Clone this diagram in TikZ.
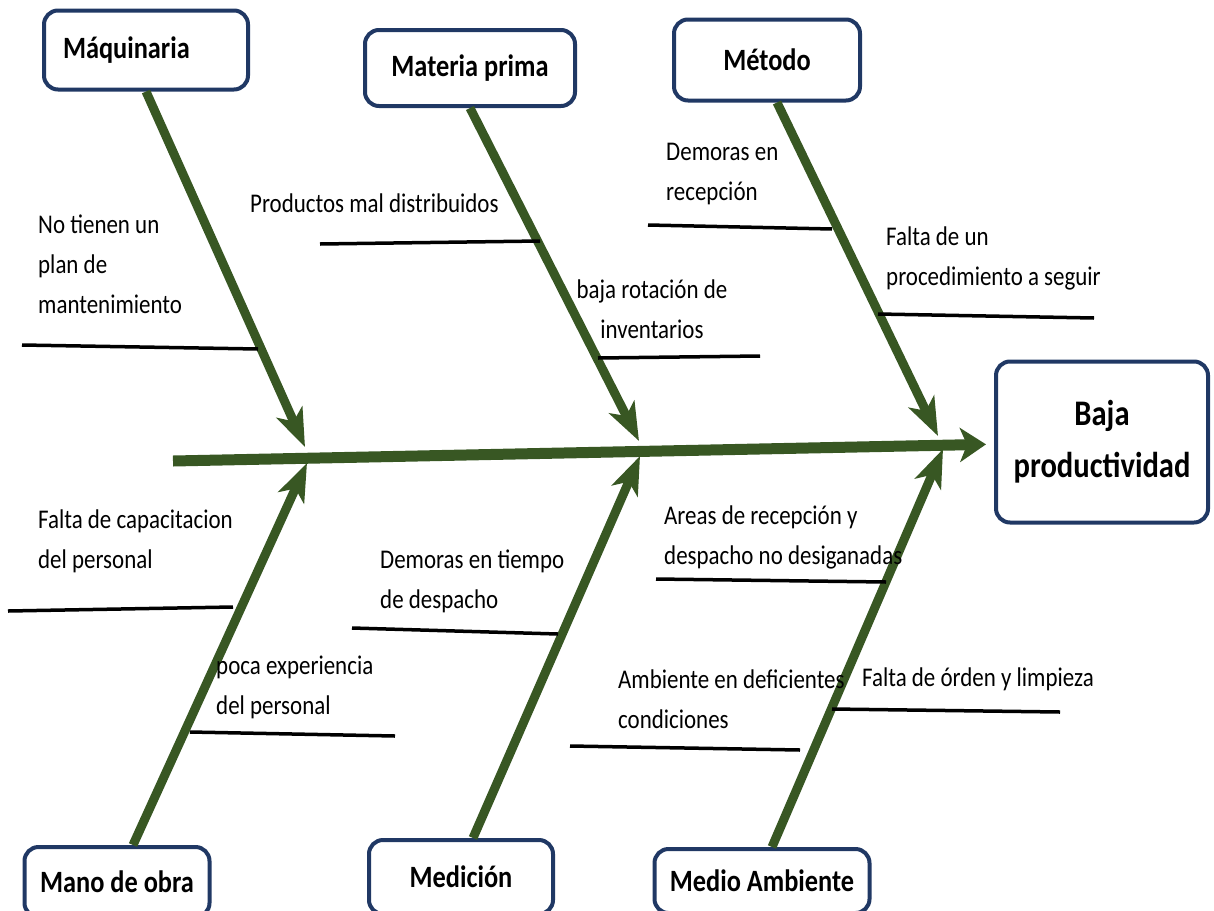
\documentclass[tikz,border=0pt]{standalone}
\usepackage{fontspec}
\setmainfont{Carlito}[FakeStretch=0.85]
\usetikzlibrary{arrows.meta}
\definecolor{bonegreen}{RGB}{56,87,35}
\definecolor{boxblue}{RGB}{32,56,100}
\begin{document}
\begin{tikzpicture}[x=1pt,y=-1pt,
    cat/.style={draw=boxblue,line width=4pt,rounded corners=14pt,fill=white,
      inner sep=0pt,font=\fontsize{31}{34}\selectfont\bfseries},
    spine/.style={draw=bonegreen,line width=11pt,
      -{Stealth[length=26pt,width=34pt,inset=7pt]}},
    bone/.style={draw=bonegreen,line width=9pt,
      -{Stealth[length=38pt,width=28pt,inset=10pt]}},
    sub/.style={draw=black,line width=3.5pt},
    cause/.style={font=\fontsize{27}{40}\selectfont,align=left,
      anchor=base west,inner sep=0pt}]
  \useasboundingbox (0,0) rectangle (1214,910);
  \path
    (146,50) node[cat,minimum width=204,minimum height=79,
      text width=166,align=left] (maq){M\'aquinaria}
    (470,68) node[cat,minimum width=210,minimum height=76] (mat){Materia prima}
    (767,60) node[cat,minimum width=186,minimum height=81] (met){M\'etodo}
    (117,882) node[cat,minimum width=185,minimum height=70] (mano){Mano de obra}
    (461,877) node[cat,minimum width=184,minimum height=74] (med){Medici\'on}
    (762,881) node[cat,minimum width=215,minimum height=64] (amb){Medio Ambiente}
    (1102,442) node[cat,minimum width=212,minimum height=161,align=center,
      font=\fontsize{36}{52}\selectfont\bfseries] (effect){Baja\\productividad};
  \path
    (173,461) coordinate (tail)
    (305,447) coordinate (j1)
    (639,441) coordinate (j2)
    (938,436) coordinate (j3)
    (307,463) coordinate (j4)
    (640,456) coordinate (j5)
    (943,449) coordinate (j6);
  \draw[spine,shorten >=8pt] (tail) to (effect);
  \begin{scope}
    \draw[bone] (maq.south) to (j1);
    \draw[bone] (mat.south) to (j2);
    \draw[bone] ([xshift=10pt]met.south) to (j3);
    \draw[bone] ([xshift=16pt]mano.north) to (j4);
    \draw[bone] ([xshift=12pt]med.north) to (j5);
    \draw[bone] ([xshift=10pt]amb.north) to (j6);
  \end{scope}
  \path
    (22,345) coordinate (a1) (258,349) coordinate (a2)
    (320,244) coordinate (b1) (540,241) coordinate (b2)
    (598,358) coordinate (c1) (760,356) coordinate (c2)
    (648,225) coordinate (d1) (832,229) coordinate (d2)
    (878,314) coordinate (e1) (1094,318) coordinate (e2)
    (8,611) coordinate (f1) (233,607) coordinate (f2)
    (190,732) coordinate (g1) (395,736) coordinate (g2)
    (352,628) coordinate (h1) (558,634) coordinate (h2)
    (656,579) coordinate (k1) (886,582) coordinate (k2)
    (570,746) coordinate (l1) (800,750) coordinate (l2)
    (832,709) coordinate (m1) (1060,712) coordinate (m2);
  \begin{scope}[sub]
    \draw (a1) to (a2);
    \draw (b1) to (b2);
    \draw (c1) to (c2);
    \draw (d1) to (d2);
    \draw (e1) to (e2);
    \draw (f1) to (f2);
    \draw (g1) to (g2);
    \draw (h1) to (h2);
    \draw (k1) to (k2);
    \draw (l1) to (l2);
    \draw (m1) to (m2);
  \end{scope}
  \path
    (38,313) node[cause] (plan){No tienen un\\plan de\\mantenimiento}
    (250,212) node[cause] (dist){Productos mal distribuidos}
    (652,338) node[cause,align=center,anchor=base] (rot){baja rotaci\'on de\\inventarios}
    (666,200) node[cause] (recep){Demoras en\\recepci\'on}
    (886,285) node[cause] (proc){Falta de un\\procedimiento a seguir}
    (38,568) node[cause] (capa){Falta de capacitacion\\del personal}
    (216,714) node[cause] (exp){poca experiencia\\del personal}
    (380,608) node[cause] (desp){Demoras en tiempo\\de despacho}
    (664,564) node[cause] (areas){Areas de recepci\'on y\\despacho no desiganadas}
    (618,728) node[cause] (cond){Ambiente en deficientes\\condiciones}
    (862,686) node[cause] (orden){Falta de \'orden y limpieza};
\end{tikzpicture}
\end{document}
